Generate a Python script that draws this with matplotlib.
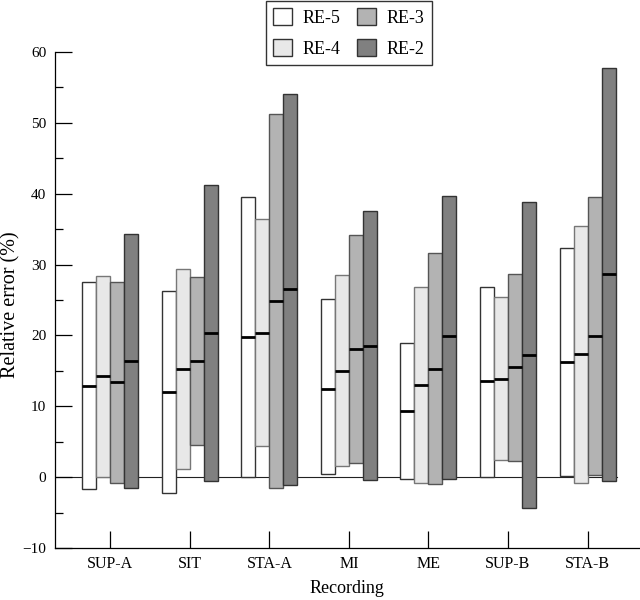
import matplotlib
matplotlib.use("Agg")
import matplotlib.pyplot as plt
import numpy as np
from matplotlib.patches import Patch
from matplotlib.ticker import MultipleLocator

plt.rcParams['font.family'] = ['Liberation Serif', 'DejaVu Serif']

groups = ['SUP-A', 'SIT', 'STA-A', 'MI', 'ME', 'SUP-B', 'STA-B']
series = ['RE-5', 'RE-4', 'RE-3', 'RE-2']

re5_low = [-1.7, -2.2, 0.0, 0.4, -0.2, 0.0, 0.2]
re5_high = [27.6, 26.3, 39.5, 25.1, 18.9, 26.9, 32.3]
re5_med = [12.9, 12.0, 19.8, 12.4, 9.3, 13.5, 16.2]

re4_low = [0.0, 1.1, 4.4, 1.5, -0.8, 2.4, -0.9]
re4_high = [28.4, 29.4, 36.4, 28.5, 26.9, 25.4, 35.5]
re4_med = [14.2, 15.3, 20.3, 15.0, 13.0, 13.9, 17.4]

re3_low = [-0.9, 4.6, -1.5, 2.0, -1.0, 2.3, 0.3]
re3_high = [27.6, 28.2, 51.3, 34.1, 31.6, 28.6, 39.5]
re3_med = [13.4, 16.4, 24.9, 18.1, 15.3, 15.5, 19.9]

re2_low = [-1.5, -0.6, -1.1, -0.4, -0.3, -4.4, -0.5]
re2_high = [34.3, 41.2, 54.1, 37.5, 39.7, 38.8, 57.8]
re2_med = [16.4, 20.3, 26.5, 18.5, 19.9, 17.2, 28.7]

lows = [re5_low, re4_low, re3_low, re2_low]
highs = [re5_high, re4_high, re3_high, re2_high]
meds = [re5_med, re4_med, re3_med, re2_med]

fills = ['#ffffff', '#e8e8e8', '#b3b3b3', '#808080']
edges = ['#333333', '#777777', '#555555', '#333333']

fig = plt.figure(figsize=(6.4, 6.0), dpi=100)
ax = fig.add_axes([0.0855, 0.0867, 0.9145, 0.8267])

x = np.arange(len(groups))
w = 0.176
offsets = [-1.5 * w, -0.5 * w, 0.5 * w, 1.5 * w]

ax.set_xlim(-0.70, 6.66)
ax.set_ylim(-10, 60)
ax.axhline(0, xmin=0, xmax=(6.37 + 0.70) / (6.66 + 0.70), color='#222222', lw=0.8, zorder=1)

for i in range(4):
    lo = np.array(lows[i])
    hi = np.array(highs[i])
    xs = x + offsets[i]
    ax.bar(xs, hi - lo, bottom=lo, width=w, color=fills[i], edgecolor=edges[i],
           linewidth=1.0, zorder=2)
    ax.hlines(meds[i], xs - w / 2, xs + w / 2, color='black', lw=2, zorder=3)

ax.spines['top'].set_visible(False)
ax.spines['right'].set_visible(False)
ax.spines['left'].set_linewidth(0.9)
ax.spines['bottom'].set_linewidth(0.9)

ax.set_xticks(x)
ax.set_xticklabels(groups)
ax.yaxis.set_major_locator(MultipleLocator(10))
ax.yaxis.set_minor_locator(MultipleLocator(5))
ax.tick_params(axis='both', which='major', direction='in', length=12, width=0.9,
               labelsize=11, pad=6)
ax.tick_params(axis='x', labelsize=11.5)
ax.tick_params(axis='y', which='minor', direction='in', length=6, width=0.9)
ax.set_yticks([-10, 0, 10, 20, 30, 40, 50, 60])
ax.set_yticklabels(['\u221210', '0', '10', '20', '30', '40', '50', '60'])

ax.set_xlabel('Recording', fontsize=13)
ax.xaxis.set_label_coords(0.5, -0.065)
ax.set_ylabel('Relative error (%)', fontsize=14.5)
ax.yaxis.set_label_coords(-0.059, 0.49)

handles = [Patch(facecolor=fills[i], edgecolor='#333333', lw=1.0, label=series[i])
           for i in range(4)]
leg = fig.legend(handles=handles, loc='upper center', bbox_to_anchor=(0.545, 1.0),
                 ncol=2, fontsize=13, fancybox=False, edgecolor='black',
                 handlelength=1.05, handleheight=1.05, columnspacing=0.9,
                 handletextpad=0.6, borderpad=0.4, labelspacing=0.7,
                 borderaxespad=0.05)
leg.get_frame().set_linewidth(1.0)

fig.savefig('out.png', dpi=100)
